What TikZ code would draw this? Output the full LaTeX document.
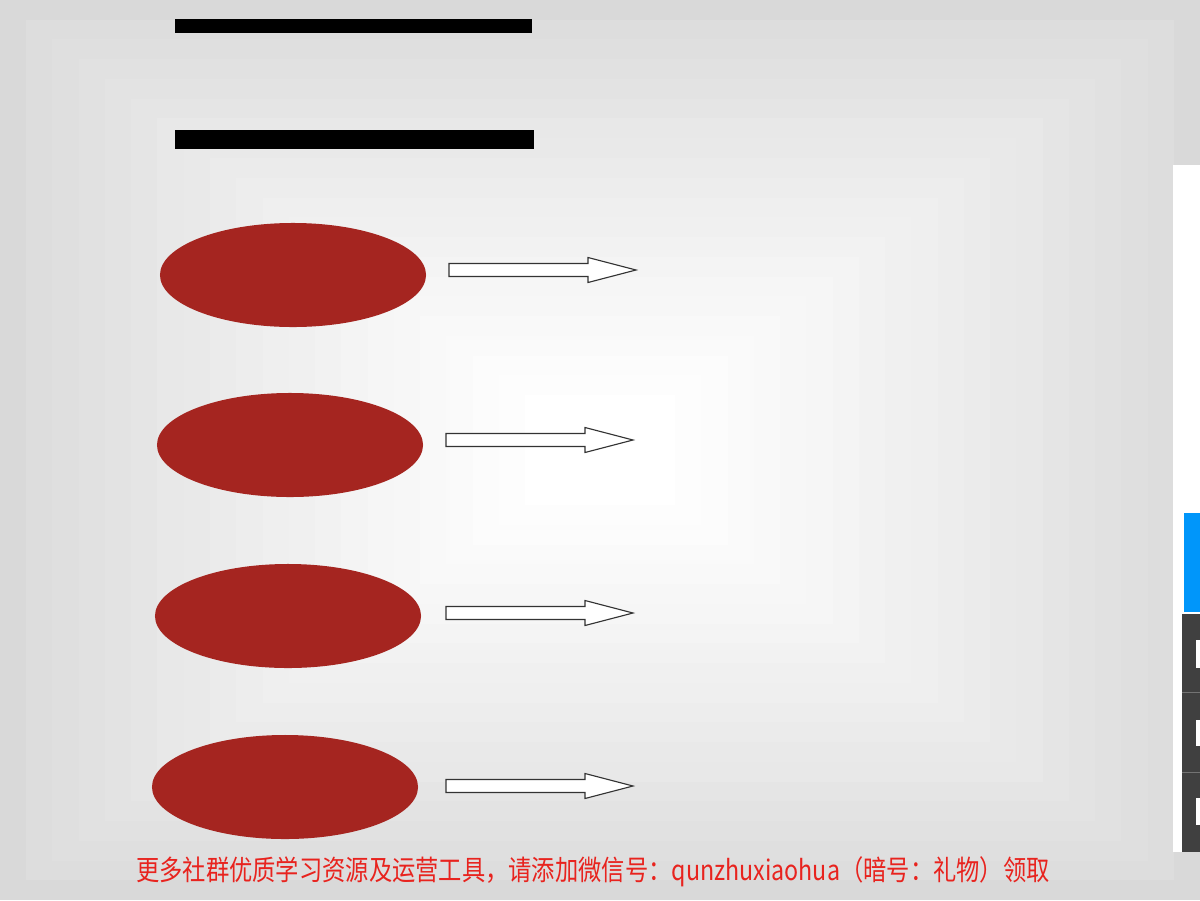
\documentclass[tikz,border=0pt]{standalone}
\usepackage{fontspec}
\newfontfamily\cjk{Noto Sans CJK SC}
\definecolor{bgout}{HTML}{D9D9D9}
\definecolor{ellred}{HTML}{A52520}
\definecolor{txtred}{HTML}{E8231E}
\definecolor{panelblue}{HTML}{0096FA}
\definecolor{paneldark}{HTML}{404040}
\tikzset{
  bar/.style={fill=black,draw=none},
  blob/.style={ellipse,fill=ellred,draw=none,minimum width=6.65cm,minimum height=2.6cm,inner sep=0pt},
  hollowarrow/.style={fill=white,draw=black!80,line width=0.8pt,line join=miter},
}
\usetikzlibrary{shapes.geometric}
\begin{document}
\begin{tikzpicture}[x=0.025cm,y=-0.025cm]
\useasboundingbox (0,0) rectangle (1200,900);
% background with rectangular gradient
\fill[bgout] (0,0) rectangle (1200,900);
\foreach \i in {1,...,20}{
  \pgfmathsetmacro{\t}{\i/20}
  \pgfmathsetmacro{\xa}{0+525*\t}
  \pgfmathsetmacro{\xb}{1200-525*\t}
  \pgfmathsetmacro{\ya}{0+395*\t}
  \pgfmathsetmacro{\yb}{900-395*\t}
  \pgfmathsetmacro{\c}{100*(\t^0.8)}
  \fill[white!\c!bgout] (\xa,\ya) rectangle (\xb,\yb);
}
% top bars
\path[bar] (175,19) rectangle (532,33);
\path[bar] (175,130) rectangle (534,149);
% ellipses
\node[blob] (e1) at (293,275) {};
\node[blob] (e2) at (290,445) {};
\node[blob] (e3) at (288,616) {};
\node[blob] (e4) at (285,787) {};
% hollow arrows
\foreach \n/\x/\y in {1/449/270, 2/446/440, 3/446/613, 4/446/786}{
  \draw[hollowarrow] (\x,\y-6.5) -- (\x+139,\y-6.5) -- (\x+139,\y-12.5) -- (\x+187,\y)
     -- (\x+139,\y+12.5) -- (\x+139,\y+6.5) -- (\x,\y+6.5) -- cycle;
}
% right panel fragment
\fill[white] (1173,165) rectangle (1200,852);
\fill[panelblue] (1184,513) rectangle (1200,612);
\fill[paneldark] (1182,614) rectangle (1200,852);
\draw[black!55,line width=0.5pt] (1182,692) -- (1200,692);
\draw[black!55,line width=0.5pt] (1182,772) -- (1200,772);
\fill[white] (1196,640) rectangle (1200,668);
\fill[white] (1196,720) rectangle (1200,746);
\fill[white] (1196,798) rectangle (1200,825);
% bottom text
\node[text=txtred,font=\cjk\fontsize{17pt}{17pt}\selectfont,inner sep=0pt] (note) at (593,872)
  {\scalebox{1}[1.2]{\resizebox{22.825cm}{!}{更多社群优质学习资源及运营工具，请添加微信号：qunzhuxiaohua（暗号：礼物）领取}}};
\end{tikzpicture}
\end{document}
